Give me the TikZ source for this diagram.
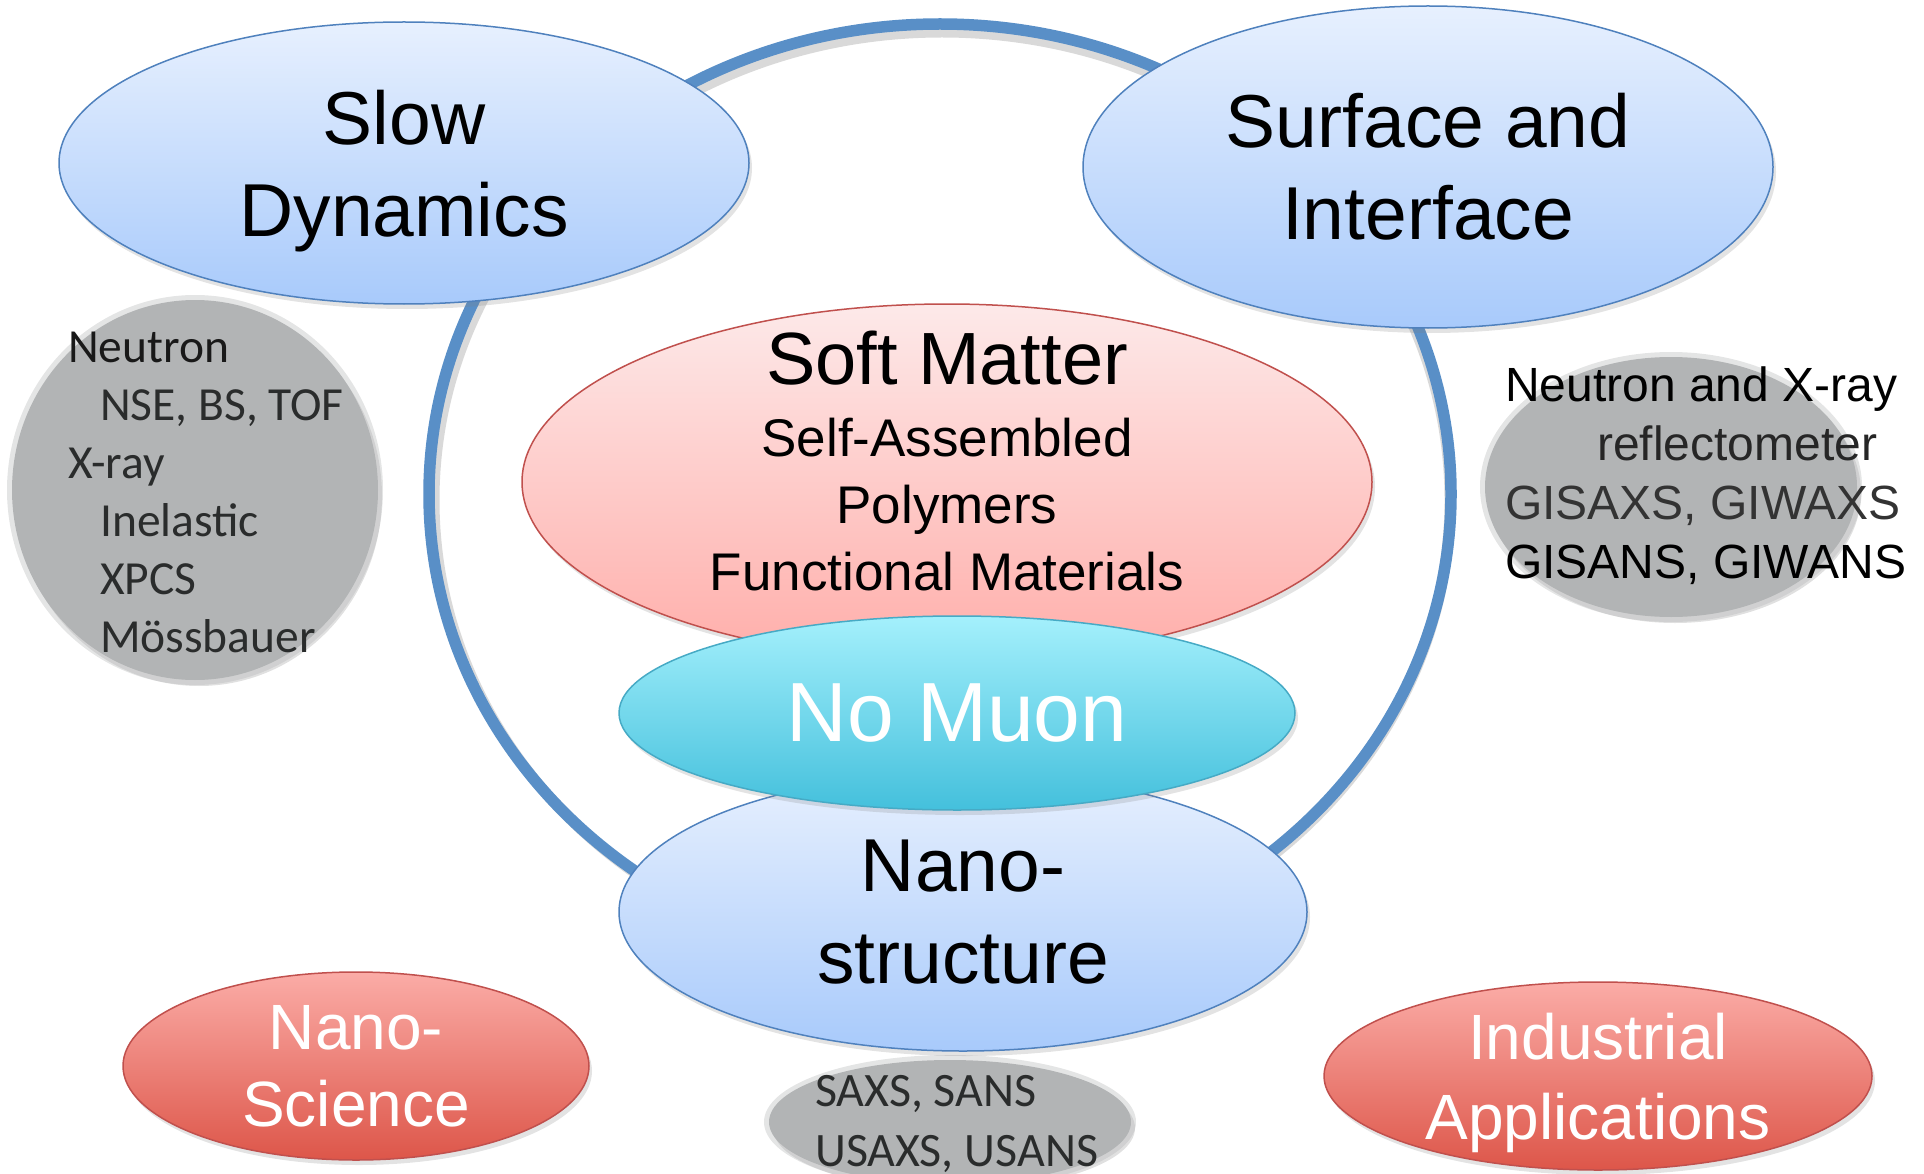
\documentclass[tikz,border=0pt]{standalone}
\usepackage{fontspec}
\setmainfont{Liberation Sans}
\newfontfamily\calibri{Carlito}
\usetikzlibrary{shapes.geometric}
\usetikzlibrary{shadows}

\definecolor{ringblue}{RGB}{89,143,199}
\definecolor{blueline}{RGB}{79,129,189}
\definecolor{bluetop}{RGB}{231,240,254}
\definecolor{bluebot}{RGB}{168,202,251}
\definecolor{pinktop}{RGB}{253,233,233}
\definecolor{pinkbot}{RGB}{255,174,170}
\definecolor{redline}{RGB}{192,80,77}
\definecolor{redtop}{RGB}{251,172,167}
\definecolor{redbot}{RGB}{221,86,73}
\definecolor{cyantop}{RGB}{164,240,252}
\definecolor{cyanbot}{RGB}{68,192,220}
\definecolor{cyanline}{RGB}{70,170,197}
\definecolor{bubgray}{RGB}{178,180,181}
\definecolor{bubtext}{RGB}{42,44,44}

\tikzset{
  ball/.style={ellipse, inner sep=0pt, align=center, line width=1.5pt,
    drop shadow={shadow xshift=3pt, shadow yshift=-5pt, opacity=0.22}},
  blueball/.style={ball, draw=blueline, top color=bluetop, bottom color=bluebot,
    font=\fontsize{75}{92}\selectfont},
  pinkball/.style={ball, draw=redline, top color=pinktop, bottom color=pinkbot},
  cyanball/.style={ball, draw=cyanline, top color=cyantop, bottom color=cyanbot,
    text=white, font=\fontsize{84}{100}\selectfont},
  redball/.style={ball, draw=redline, top color=redtop, bottom color=redbot,
    text=white},
  bubtxt/.style={inner sep=0pt, align=left, anchor=north west, text=bubtext,
    font=\calibri\fontsize{47.5}{58}\selectfont}
}

\begin{document}
\begin{tikzpicture}[x=1pt, y=1pt]
  \useasboundingbox (0,0) rectangle (1924,-1174);

  % big ring
  \draw[black, opacity=0.15, line width=11pt] (942,-500) ellipse [x radius=508, y radius=468];
  \draw[ringblue, line width=11.5pt] (940,-494) ellipse [x radius=511, y radius=470];

  % gray bubbles
  \foreach \cx/\cy/\rx/\ry in {195/490/183/190, 1671/487/186/130, 950/1122/181/62} {
    \fill[black, opacity=0.12] ({\cx+4},{-\cy-6}) ellipse [x radius=\rx, y radius=\ry];
    \fill[bubgray, opacity=0.35] (\cx,-\cy) ellipse [x radius=\rx+5, y radius=\ry+5];
    \fill[bubgray] (\cx,-\cy) ellipse [x radius=\rx, y radius=\ry];
  }

  \node[blueball, minimum width=690pt, minimum height=282pt, text depth=0pt] (slow) at (404,-163) {Slow\\Dynamics};
  \node[blueball, minimum width=690pt, minimum height=322pt] (surface) at (1428,-167) {Surface and\\Interface};
  \node[pinkball, minimum width=850pt, minimum height=356pt] (soft) at (947,-482) {};
  \node[align=center, font=\fontsize{53}{67}\selectfont] (softtext) at (947,-461)
    {{\fontsize{74}{89}\selectfont Soft Matter}\\[5pt]Self-Assembled\\Polymers\\Functional Materials};
  \node[blueball, minimum width=688pt, minimum height=278pt] (nano) at (963,-912) {Nano-\\structure};
  \node[cyanball, minimum width=676pt, minimum height=194pt] (muon) at (957,-713) {No Muon};
  \node[redball, minimum width=466pt, minimum height=188pt, font=\fontsize{64}{77}\selectfont] (nanosci) at (356,-1066) {Nano-\\Science};
  \node[redball, minimum width=548pt, minimum height=188pt, text depth=0pt, font=\fontsize{64}{80}\selectfont] (industry) at (1598,-1076) {Industrial\\Applications};

  % techniques
  \node[bubtxt] (dyntext) at (68,-332) {{\color{black!90}Neutron}\\\hspace*{32pt}NSE, BS, TOF\\X-ray\\\hspace*{32pt}Inelastic\\\hspace*{32pt}XPCS\\\hspace*{32pt}Mössbauer};
  \node[bubtxt, text=black, font=\fontsize{48}{59}\selectfont] (refltext) at (1505,-367)
    {Neutron and X-ray\\\hspace*{92pt}{\color{black!85}reflectometer}\\{\color{black!80}GISAXS, GIWAXS}\\GISANS, GIWANS};
  \node[bubtxt, font=\calibri\fontsize{48}{60}\selectfont] (sanstext) at (815,-1075) {SAXS, SANS\\USAXS, USANS};
\end{tikzpicture}
\end{document}
